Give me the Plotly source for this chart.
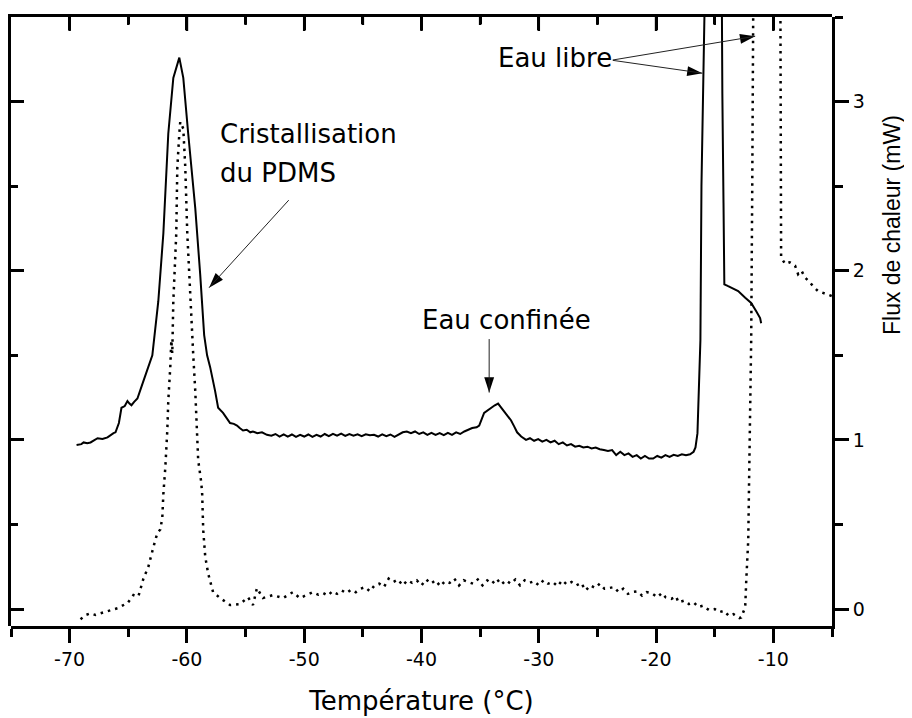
import plotly.graph_objects as go

# ---------------- data ----------------
solid_x = [-69.41, -69.0, -68.81, -68.5, -68.22, -67.9, -67.62, -67.2, -66.77, -66.26,
           -66.09, -65.8, -65.58, -65.3, -65.07, -64.9, -64.73, -64.5, -64.22, -63.8,
           -63.29, -62.95, -62.44, -62.01, -61.59, -61.16, -60.65, -60.31, -59.89, -59.29,
           -58.87, -58.53, -58.28, -58.02, -57.6, -57.34, -56.92, -56.6, -56.32, -56.0,
           -55.73, -55.5, -55.22, -54.9, -54.6, -54.37, -54.0, -53.6, -53.18,
           -52.8, -52.45, -52.1, -51.75, -51.4, -51.05, -50.7, -50.35, -50.0, -49.65,
           -49.3, -48.95, -48.6, -48.25, -47.9, -47.55, -47.2, -46.85, -46.5, -46.15,
           -45.8, -45.45, -45.1, -44.75, -44.4, -44.05, -43.7, -43.35, -43.0, -42.65,
           -42.3, -41.95, -41.6, -41.25, -40.9, -40.55, -40.2, -39.85, -39.5, -39.15,
           -38.8, -38.45, -38.1, -37.75, -37.4, -37.05, -36.7, -36.35, -36.0, -35.68,
           -35.3, -35.08, -34.66, -34.3, -34.06, -33.75, -33.47, -33.2, -32.96, -32.6,
           -32.36, -32.1, -31.85, -31.5, -31.09, -30.75, -30.4, -30.05, -29.7, -29.35,
           -29.0, -28.65, -28.3, -27.95, -27.6, -27.25, -26.9, -26.55, -26.2, -25.85,
           -25.5, -25.15, -24.8, -24.45, -24.1, -23.75, -23.4, -23.05, -22.7, -22.35,
           -22.0, -21.65, -21.3, -20.95, -20.6, -20.25, -19.9, -19.55, -19.2, -18.85,
           -18.5, -18.15, -17.8, -17.45, -17.1, -16.8, -16.64, -16.47, -16.39, -16.3,
           -16.22, -16.13, -16.02, -15.96, -15.5, -14.5, -14.4, -14.38, -14.35, -14.25,
           -14.18, -13.9, -13.59, -13.0, -12.4, -11.89, -11.46, -11.13, -11.04]
solid_y = [0.97, 0.975, 0.985, 0.98, 0.985, 1.0, 1.01, 1.005, 1.015, 1.04,
           1.045, 1.1, 1.19, 1.2, 1.23, 1.215, 1.205, 1.225, 1.245, 1.33,
           1.44, 1.5, 1.82, 2.22, 2.81, 3.14, 3.26, 3.14, 2.81, 2.37,
           1.98, 1.62, 1.5, 1.43, 1.29, 1.19, 1.16, 1.13, 1.1, 1.095,
           1.085, 1.07, 1.056, 1.06, 1.045, 1.05, 1.04, 1.045, 1.03,
           1.025, 1.035, 1.02, 1.033, 1.02, 1.032, 1.018, 1.03, 1.02, 1.032,
           1.018, 1.03, 1.02, 1.035, 1.022, 1.036, 1.025, 1.037, 1.024, 1.035,
           1.025, 1.033, 1.022, 1.033, 1.028, 1.03, 1.02, 1.033, 1.022, 1.032,
           1.018, 1.03, 1.045, 1.05, 1.04, 1.05, 1.035, 1.045, 1.03, 1.042,
           1.03, 1.04, 1.028, 1.042, 1.03, 1.045, 1.035, 1.05, 1.06, 1.07,
           1.075, 1.085, 1.16, 1.18, 1.19, 1.205, 1.215, 1.19, 1.17, 1.14,
           1.115, 1.08, 1.045, 1.02, 1.0, 1.01, 0.995, 1.005, 0.99, 1.0,
           0.985, 0.995, 0.975, 0.985, 0.967, 0.975, 0.96, 0.965, 0.955, 0.96,
           0.95, 0.955, 0.945, 0.94, 0.935, 0.94, 0.91, 0.93, 0.91, 0.92,
           0.9, 0.91, 0.89, 0.905, 0.89, 0.89, 0.905, 0.895, 0.91, 0.9,
           0.912, 0.905, 0.915, 0.91, 0.915, 0.93, 0.956, 1.04, 1.19, 1.39,
           1.59, 2.5, 3.3, 3.6, 5.0, 5.0, 3.6, 3.3, 3.05, 2.4,
           1.92, 1.91, 1.9, 1.88, 1.84, 1.81, 1.76, 1.72, 1.69]

dotted_x = [-69.07, -68.64, -68.22, -67.79, -67.37, -66.52, -65.92, -65.24, -65.07, -64.56,
            -64.14, -63.71, -63.29, -62.86, -62.52, -62.27, -62.1, -62.01, -61.84, -61.67,
            -61.59, -61.42, -61.33, -61.25, -61.16, -60.91, -60.82, -60.65, -60.57, -60.31,
            -60.14, -59.97, -59.72, -59.46, -59.29, -59.12, -59.04, -58.78, -58.7, -58.61,
            -58.44, -58.19, -57.77, -57.17, -56.32, -55.47, -54.79, -54.37, -54.03, -53.52,
            -52.67, -51.82, -50.97, -50.37, -49.27, -48.8, -48.4, -48.0, -47.6, -47.2,
            -46.8, -46.4, -46.0, -45.6, -45.2, -44.8, -44.4, -44.0, -43.6, -43.2,
            -42.8, -42.4, -42.0, -41.6, -41.2, -40.8, -40.4, -40.0, -39.6, -39.2,
            -38.8, -38.4, -38.0, -37.6, -37.2, -36.8, -36.4, -36.0, -35.6, -35.2,
            -34.8, -34.4, -34.0, -33.6, -33.2, -32.8, -32.4, -32.0, -31.6, -31.2,
            -30.8, -30.4, -30.0, -29.6, -29.2, -28.8, -28.4, -28.0, -27.6, -27.2,
            -26.8, -26.4, -26.0, -25.6, -25.2, -24.8, -24.4, -24.04, -23.6, -23.19,
            -22.8, -22.4, -22.08, -21.6, -21.2, -20.8, -20.38, -19.9, -19.5, -19.19,
            -18.7, -18.3, -18.09, -17.6, -17.2, -16.8, -16.4, -16.0, -15.5, -15.0,
            -14.6, -14.2, -13.8, -13.4, -12.9, -12.74, -12.4, -12.31, -12.14, -12.06,
            -11.97, -11.89, -11.8, -11.72, -11.6, -10.5, -9.5, -9.4, -9.37, -9.34,
            -9.0, -8.6, -8.15, -7.89, -7.6, -7.3, -7.0, -6.79, -6.5, -6.19,
            -5.8, -5.35, -5.0]
dotted_y = [-0.06, -0.035, -0.025, -0.035, -0.025, -0.006, 0.005, 0.03, 0.035, 0.083,
            0.075, 0.18, 0.25, 0.366, 0.45, 0.47, 0.54, 0.68, 0.84, 1.06,
            1.23, 1.43, 1.59, 1.51, 1.82, 2.22, 2.61, 2.81, 2.88, 2.84,
            2.61, 2.22, 1.82, 1.5, 1.29, 1.04, 0.88, 0.75, 0.68, 0.466,
            0.31, 0.21, 0.1, 0.065, 0.024, 0.03, 0.07, 0.024, 0.124, 0.065,
            0.083, 0.065, 0.1, 0.065, 0.1, 0.085, 0.095, 0.08, 0.105, 0.09,
            0.11, 0.095, 0.115, 0.1, 0.12, 0.13, 0.105, 0.14, 0.15, 0.13,
            0.18, 0.16, 0.175, 0.14, 0.17, 0.155, 0.17, 0.14, 0.175, 0.15,
            0.17, 0.135, 0.165, 0.155, 0.18, 0.14, 0.17, 0.16, 0.15, 0.175,
            0.14, 0.17, 0.15, 0.18, 0.145, 0.17, 0.15, 0.175, 0.14, 0.17,
            0.155, 0.165, 0.14, 0.17, 0.15, 0.16, 0.135, 0.17, 0.145, 0.16,
            0.14, 0.155, 0.11, 0.14, 0.125, 0.15, 0.12, 0.124, 0.13, 0.1,
            0.12, 0.09, 0.1, 0.105, 0.08, 0.1, 0.094, 0.07, 0.095, 0.07,
            0.06, 0.075, 0.04, 0.05, 0.03, 0.04, 0.012, 0.02, -0.005, 0.0,
            -0.018, -0.01, -0.04, -0.03, -0.053, -0.05, 0.012, 0.17, 0.41, 0.8,
            1.19, 1.59, 2.5, 3.5, 5.0, 5.0, 5.0, 3.6, 2.6, 2.08,
            2.04, 2.05, 2.03, 1.98, 2.0, 1.96, 1.94, 1.92, 1.9, 1.88,
            1.87, 1.86, 1.85]

x_tick_vals = [-70, -60, -50, -40, -30, -20, -10]
x_tick_text = ["-70", "-60", "-50", "-40", "-30", "-20", "-10"]
x_minor_vals = [-65, -55, -45, -35, -25, -15]
y_tick_vals = [0, 1, 2, 3]
y_tick_text = ["0", "1", "2", "3"]

x_range = [-75, -5]
y_range = [-0.1, 3.5]

# annotation labels: (text, x, y)
labels = [("Cristallisation", -57.35, 2.81),
          ("du PDMS", -57.35, 2.575),
          ("Eau libre", -33.64, 3.255),
          ("Eau confinée", -40.09, 1.71)]
# arrows: head (x, y), tail offset in px (ax, ay), head angle (deg, clockwise from up)
arrows = [(-58.11, 1.90, 81, -89, 222),
          (-11.55, 3.386, -144, 24, 80.5),
          (-16.05, 3.168, -91, -13, 98),
          (-34.23, 1.28, 0, -55, 180)]

FONT = "DejaVu Sans"
TICKFONT = dict(family=FONT, size=19, color="black")

# figure geometry (the page body adds an 8px offset, so the figure is 8px smaller)
FIG_W, FIG_H = 904, 710
MARGIN = dict(l=3, r=80, t=9, b=92)
plot_h = FIG_H - MARGIN["t"] - MARGIN["b"]
units_per_px = (y_range[1] - y_range[0]) / plot_h

fig = go.Figure()
fig.add_trace(go.Scatter(x=solid_x, y=solid_y, mode="lines",
                         line=dict(color="black", width=2), showlegend=False,
                         hoverinfo="skip"))
fig.add_trace(go.Scatter(x=dotted_x, y=dotted_y, mode="lines",
                         line=dict(color="black", width=2.5, dash="2.5px,5px"),
                         showlegend=False, hoverinfo="skip"))
# arrow heads
fig.add_trace(go.Scatter(x=[a[0] for a in arrows], y=[a[1] for a in arrows], mode="markers",
                         marker=dict(symbol="arrow", size=16, color="black",
                                     angle=[a[4] for a in arrows], line=dict(width=0)),
                         showlegend=False, hoverinfo="skip"))
# invisible trace on the frame subplot (top + left axes with inward ticks)
fig.add_trace(go.Scatter(x=x_range, y=y_range, xaxis="x3", yaxis="y3", mode="markers",
                         marker=dict(opacity=0), showlegend=False, hoverinfo="skip"))

# inward tick marks on the top frame, placed at the tick values
for v in x_tick_vals:
    fig.add_shape(type="line", xref="x", yref="y", x0=v, x1=v,
                  y0=y_range[1], y1=y_range[1] - 14 * units_per_px,
                  line=dict(color="black", width=2.5), layer="above")
for v in x_minor_vals:
    fig.add_shape(type="line", xref="x", yref="y", x0=v, x1=v,
                  y0=y_range[1], y1=y_range[1] - 8 * units_per_px,
                  line=dict(color="black", width=2.5), layer="above")

for a in arrows:
    fig.add_annotation(x=a[0], y=a[1], ax=a[2], ay=a[3], xref="x", yref="y",
                       text="", showarrow=True, arrowhead=0, arrowwidth=1,
                       arrowcolor="#222")

for t, x, y in labels:
    fig.add_annotation(x=x, y=y, xref="x", yref="y", text=t, showarrow=False,
                       xanchor="left", yanchor="middle",
                       font=dict(family=FONT, size=26, color="black"))

fig.add_annotation(x=1.074, y=0.658, xref="paper", yref="paper",
                   text="Flux de chaleur (mW)", textangle=-90, showarrow=False,
                   xanchor="center", yanchor="middle",
                   font=dict(family="Liberation Sans", size=23, color="black"))

axis_common = dict(showgrid=False, zeroline=False, showline=True, linecolor="black",
                   linewidth=3, tickcolor="black", tickwidth=2.5, automargin=False)

fig.update_layout(
    width=FIG_W, height=FIG_H,
    margin=MARGIN,
    paper_bgcolor="white", plot_bgcolor="rgba(0,0,0,0)",
    font=dict(family=FONT, size=19, color="black"),
    # bottom labelled axis
    xaxis=dict(range=x_range, side="bottom", anchor="y",
               tickmode="array", tickvals=x_tick_vals, ticktext=x_tick_text,
               ticks="outside", ticklen=14, tickfont=TICKFONT,
               minor=dict(dtick=5, tick0=-75, ticks="outside", ticklen=8, tickwidth=2.5,
                          tickcolor="black"),
               title=dict(text="Température (°C)", font=dict(family=FONT, size=26),
                          standoff=24),
               **axis_common),
    # right labelled axis
    yaxis=dict(range=y_range, side="right", anchor="x", tickmode="array",
               tickvals=y_tick_vals, ticktext=y_tick_text, ticks="outside", ticklen=14,
               tickfont=TICKFONT,
               minor=dict(dtick=0.5, tick0=0, ticks="outside", ticklen=8, tickwidth=2.5,
                          tickcolor="black"),
               **axis_common),
    # top frame axis
    xaxis3=dict(range=x_range, side="top", anchor="y3",
                tickmode="array", tickvals=x_tick_vals, showticklabels=False,
                ticks="inside", ticklen=13,
                minor=dict(dtick=5, tick0=-75, ticks="inside", ticklen=7, tickwidth=2.5,
                           tickcolor="black"),
                **axis_common),
    # left frame axis: inward ticks, no labels
    yaxis3=dict(range=y_range, side="left", anchor="x3",
                tickmode="array", tickvals=y_tick_vals, showticklabels=False,
                ticks="inside", ticklen=13,
                minor=dict(dtick=0.5, tick0=0, ticks="inside", ticklen=7, tickwidth=2.5,
                           tickcolor="black"),
                **axis_common),
)

fig.write_html("out.html")
